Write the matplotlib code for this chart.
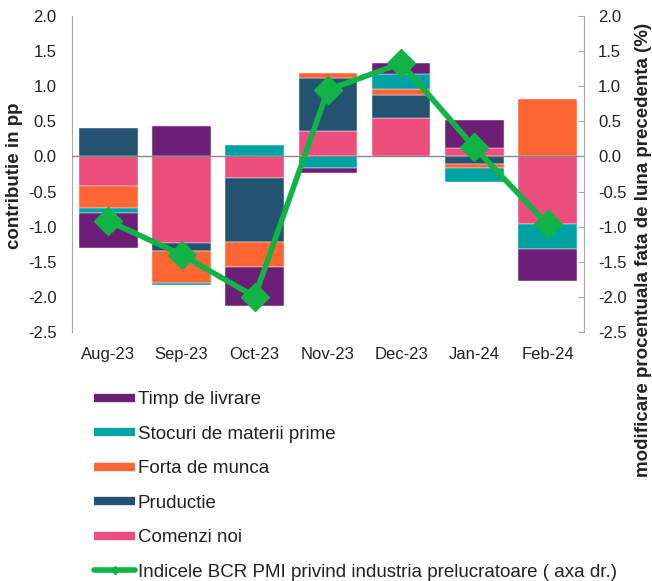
import matplotlib
matplotlib.use("Agg")
import matplotlib.pyplot as plt
from matplotlib.lines import Line2D
import numpy as np

plt.rcParams['font.family'] = ['Liberation Sans', 'DejaVu Sans']

categories = ["Aug-23", "Sep-23", "Oct-23", "Nov-23", "Dec-23", "Jan-24", "Feb-24"]

# stacking order (from zero outward)
comenzi_noi = [-0.42, -1.24, -0.31, 0.37, 0.55, 0.12, -0.96]
productie = [0.40, -0.11, -0.91, 0.75, 0.32, -0.11, 0.01]
forta_munca = [-0.32, -0.45, -0.36, 0.07, 0.09, -0.05, 0.81]
stocuri = [-0.06, -0.04, 0.16, -0.17, 0.22, -0.21, -0.36]
timp_livrare = [-0.51, 0.44, -0.55, -0.06, 0.15, 0.40, -0.45]

pmi_index = [-0.92, -1.40, -2.00, 0.95, 1.33, 0.13, -0.97]

series_names = ["Comenzi noi", "Pruductie", "Forta de munca",
                "Stocuri de materii prime", "Timp de livrare"]
series_vals = [comenzi_noi, productie, forta_munca, stocuri, timp_livrare]
colors = ["#EC4F7D", "#245372", "#FF6633", "#00A3A3", "#6D1F77"]
line_color = "#10B345"
line_label = "Indicele BCR PMI privind industria prelucratoare ( axa dr.)"
text_color = '#222222'

fig = plt.figure(figsize=(6.52, 5.81), dpi=100)
ax = fig.add_axes([0.110, 0.429, 0.786, 0.543])

x = np.arange(len(categories))
pos_base = np.zeros(len(categories))
neg_base = np.zeros(len(categories))
for name, vals, c in zip(series_names, series_vals, colors):
    vals = np.array(vals)
    bottoms = np.where(vals >= 0, pos_base, neg_base)
    ax.bar(x, vals, width=0.8, bottom=bottoms, color=c, edgecolor='white',
           linewidth=0.3, zorder=2)
    pos_base = pos_base + np.where(vals >= 0, vals, 0)
    neg_base = neg_base + np.where(vals < 0, vals, 0)

ticks = np.arange(-2.5, 2.01, 0.5)
tick_labels = [f"{v:.1f}" for v in ticks]

ax.set_ylim(-2.5, 2.0)
ax.set_xlim(-0.5, len(categories) - 0.5)
ax.set_yticks(ticks)
ax.set_yticklabels(tick_labels, fontsize=12, color=text_color)
ax.set_xticks(x)
ax.set_xticklabels(categories, fontsize=12, color=text_color)
ax.tick_params(axis='x', length=0, pad=11)
ax.tick_params(axis='y', length=0, pad=11)
ax.axhline(0, color='#888888', linewidth=1.0, zorder=3)
for s in ['top', 'right', 'bottom']:
    ax.spines[s].set_visible(False)
ax.spines['left'].set_color('#AAAAAA')

fig.text(15 / 652, 1 - 176 / 581, "contributie in pp", rotation=90, fontsize=13.5,
         fontweight='bold', ha='center', va='center', color=text_color)

ax2 = ax.twinx()
ax2.plot(x, pmi_index, color=line_color, linewidth=4, marker='D', markersize=14,
         zorder=5)
ax2.set_ylim(-2.5, 2.0)
ax2.set_yticks(ticks)
ax2.set_yticklabels(tick_labels, fontsize=12, color=text_color)
ax2.tick_params(axis='y', direction='in', length=4, color='#AAAAAA', pad=10)
for s in ['top', 'left', 'bottom']:
    ax2.spines[s].set_visible(False)
ax2.spines['right'].set_color('#AAAAAA')

fig.text(644 / 652, 1 - 250 / 581, "modificare procentuala fata de luna precedenta (%)",
         rotation=90, fontsize=13.5, fontweight='bold', ha='center', va='center',
         color=text_color)

handles = []
labels = []
for name, c in zip(series_names[::-1], colors[::-1]):
    handles.append(Line2D([0], [0], color=c, linewidth=6, solid_capstyle='butt'))
    labels.append(name)
handles.append(Line2D([0], [0], color=line_color, linewidth=4, marker='D', markersize=4,
                      solid_capstyle='round'))
labels.append(line_label)

fig.legend(handles, labels, loc='upper left', bbox_to_anchor=(0.144, 0.327),
           frameon=False, fontsize=13.5, handlelength=2.2, handletextpad=0.15,
           labelspacing=0.93, borderaxespad=0, borderpad=0, labelcolor=text_color)

fig.savefig("out.png", dpi=100)
